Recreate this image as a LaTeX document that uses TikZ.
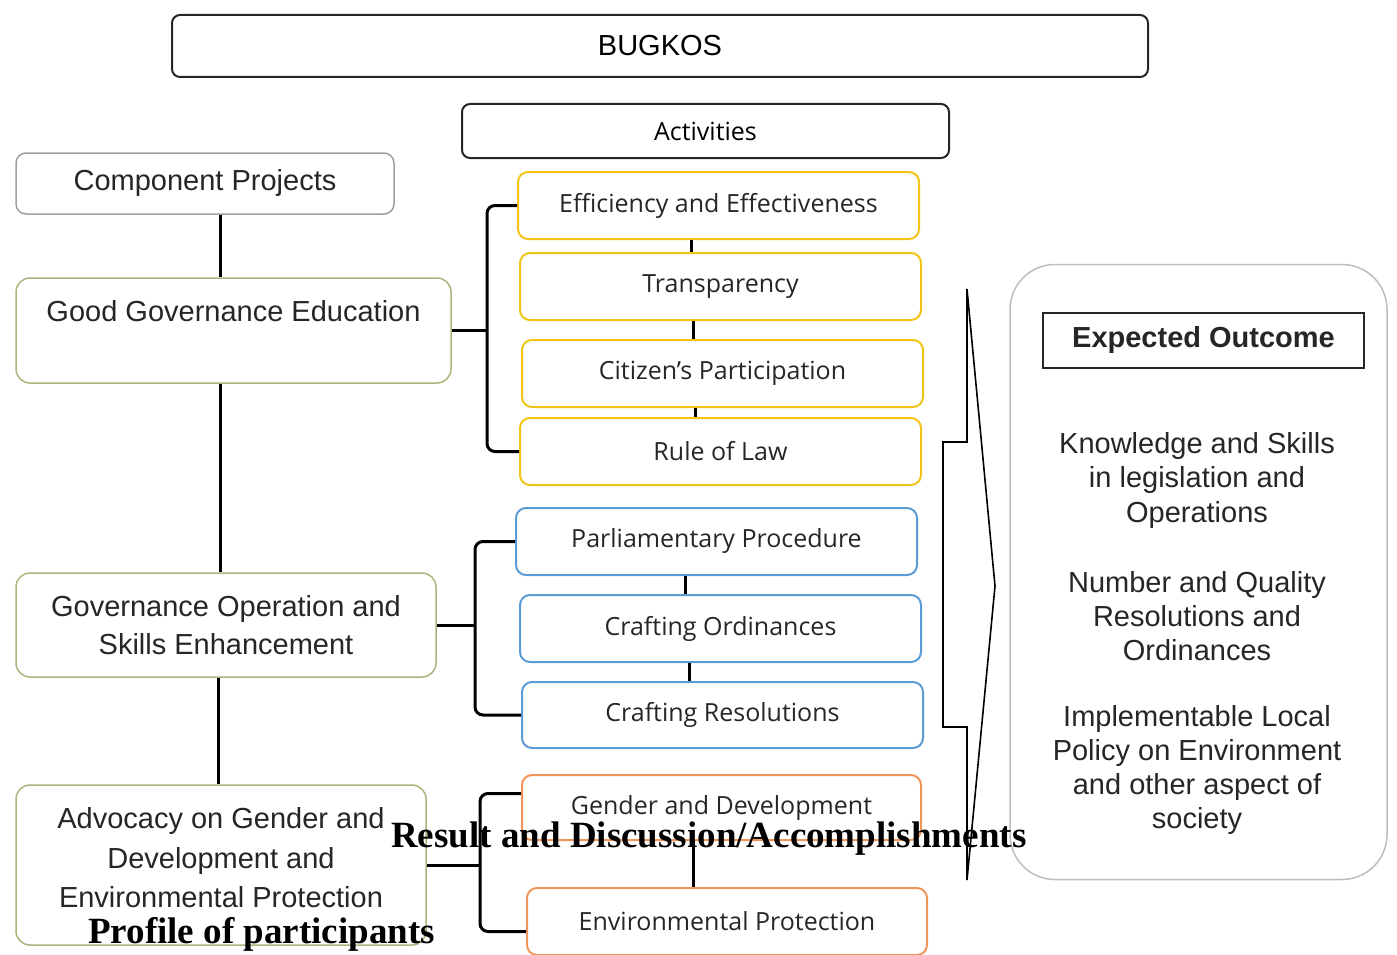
\documentclass[tikz,border=0pt]{standalone}
\usepackage{fontspec}
\setmainfont{Liberation Sans}
\newfontfamily\actfont{Open Sans}
\newfontfamily\notefont{Liberation Serif}

\definecolor{projline}{HTML}{A9B67C}
\definecolor{compline}{HTML}{A0A0A0}
\definecolor{goodline}{HTML}{F2C417}
\definecolor{skillline}{HTML}{5B9BD5}
\definecolor{gadline}{HTML}{F0955A}
\definecolor{outline}{HTML}{BDBDBD}

\tikzset{
  headbox/.style={draw=black!85, line width=2pt, rounded corners=8pt, inner sep=0pt},
  projbox/.style={draw=projline, line width=1.5pt, rounded corners=14pt, align=center,
    inner sep=0pt, text=black!85, font=\fontsize{29}{38.5}\selectfont},
  actbox/.style={line width=2pt, rounded corners=10pt, minimum width=401pt, minimum height=67pt,
    inner sep=0pt, text=black!85, font=\actfont\fontsize{25}{30}\selectfont},
  outtext/.style={align=center, text=black!85, font=\fontsize{29}{34.5}\selectfont},
  pdftext/.style={inner sep=0pt, anchor=base west, font=\notefont\bfseries\fontsize{37}{40}\selectfont},
  link/.style={line width=3pt}
}

\begin{document}
\begin{tikzpicture}[x=1pt,y=-1pt]

  % Fix the page size
  \useasboundingbox (0,0) rectangle (1397,955);

  % Title boxes
  \node[headbox, minimum width=976pt, minimum height=62pt, font=\fontsize{29}{34}\selectfont]
    (bugkos) at (660,46) {BUGKOS};
  \node[headbox, minimum width=487pt, minimum height=54pt, font=\actfont\fontsize{25}{30}\selectfont]
    (activities) at (705.5,131) {Activities};

  % Component projects
  \node[projbox, draw=compline, rounded corners=10pt, minimum width=378pt, minimum height=61pt]
    (comp) at (205,183.5) {Component Projects};
  \node[projbox, minimum width=435pt, minimum height=105pt]
    (gge) at (233.5,330.5) {Good Governance Education\\\mbox{}};
  \node[projbox, minimum width=420pt, minimum height=104pt]
    (gose) at (226,625) {Governance Operation and\\Skills Enhancement};
  \node[projbox, minimum width=410pt, minimum height=160pt, text depth=15pt, font=\fontsize{29}{39.5}\selectfont]
    (adv) at (221,865) {Advocacy on Gender and\\Development and\\Environmental Protection};

  % Spine between the projects
  \coordinate (spine) at (220,0);
  \draw[link] (comp.south -| spine) -- (gge.north -| spine);
  \draw[link] (gge.south -| spine) -- (gose.north -| spine);
  \draw[link] ([xshift=-2pt]gose.south -| spine) -- ([xshift=-2pt]adv.north -| spine);

  % Activities of good governance education
  \node[actbox, draw=goodline] (eff)   at (718.5,205.5) {Efficiency and Effectiveness};
  \node[actbox, draw=goodline] (trans) at (720.5,286.5) {Transparency};
  \node[actbox, draw=goodline] (cit)   at (722.5,373.5) {Citizen’s Participation};
  \node[actbox, draw=goodline] (rule)  at (720.5,451.5) {Rule of Law};

  % Activities of governance operation
  \node[actbox, draw=skillline] (parl) at (716.5,541.5) {Parliamentary Procedure};
  \node[actbox, draw=skillline] (ord)  at (720.5,628.5) {Crafting Ordinances};
  \node[actbox, draw=skillline, minimum height=66pt] (res) at (722.5,715) {Crafting Resolutions};

  % Activities of advocacy
  \node[actbox, draw=gadline, minimum width=399pt, minimum height=65pt] (gad) at (721.5,807.5) {Gender and Development};
  \node[actbox, draw=gadline, minimum width=400pt] (env) at (727,921.5) {Environmental Protection};

  % Short links inside each group
  \foreach \a/\b in {eff/trans, trans/cit, cit/rule}
    \draw[link] ([xshift=-27pt]\a.south) -- ([xshift=-27pt]\a.south |- \b.north);
  \foreach \a/\b in {parl/ord, ord/res}
    \draw[link] ([xshift=-31pt]\a.south) -- ([xshift=-31pt]\a.south |- \b.north);
  \draw[link] ([xshift=-28pt]gad.south) -- ([xshift=-28pt]gad.south |- env.north);

  % Braces from the projects to their activities
  \coordinate (gge-tip) at (487,330.5);
  \draw[link, rounded corners=8pt] (eff.west) -| (gge-tip) |- (rule.west);
  \draw[link] (gge.east) -- (gge-tip);

  \coordinate (gose-tip) at (475,625);
  \draw[link, rounded corners=8pt] (parl.west) -| (gose-tip) |- (res.west);
  \draw[link] (gose.east) -- (gose-tip);

  \coordinate (adv-tip) at (480,865);
  \draw[link, rounded corners=8pt] ([yshift=14pt]gad.west) -| (adv-tip) |- ([yshift=-10pt]env.west);
  \draw[link] (adv.east) -- (adv-tip);

  % Arrow towards the outcome
  \draw[line width=1.6pt, line join=miter] (967,289) -- (995,586) -- (967,880) -- (967,727)
    -- (943,727) -- (943,442) -- (967,442) -- cycle;

  % Expected outcome
  \node[draw=outline, line width=1.5pt, rounded corners=45pt, minimum width=377pt, minimum height=615pt]
    (outbox) at (1198.5,572) {};
  \node[draw=black!85, line width=2pt, minimum width=321pt, minimum height=55pt, inner sep=0pt,
    text=black!85, font=\bfseries\fontsize{29}{34}\selectfont] (outtitle) at (1203.5,340) {Expected Outcome};
  \node[outtext] (know) at (1197,480) {Knowledge and Skills\\in legislation and\\Operations};
  \node[outtext, font=\fontsize{29}{34}\selectfont] (quality) at (1197,616) {Number and Quality\\Resolutions and\\Ordinances};
  \node[outtext, font=\fontsize{29}{34.3}\selectfont] (policy) at (1197,770) {Implementable Local\\Policy on Environment\\and other aspect of\\society};

  % Stray headings of the page
  \node[pdftext] (result) at (391,847) {Result and Discussion/Accomplishments};
  \node[pdftext] (profile) at (88,943) {Profile of participants};

\end{tikzpicture}
\end{document}
